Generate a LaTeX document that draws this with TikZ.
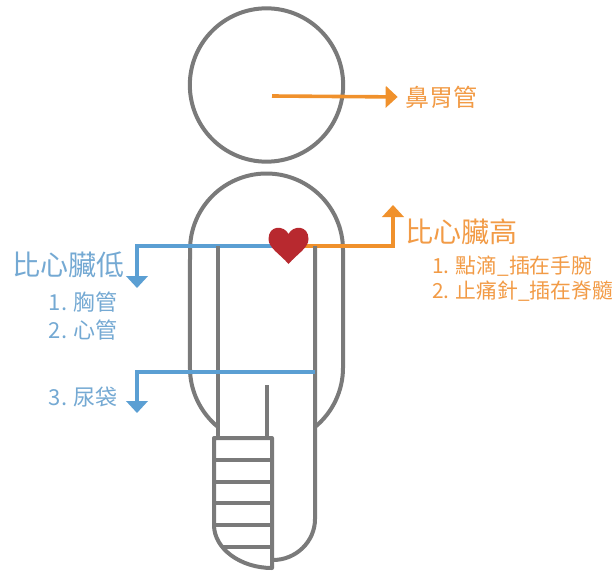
\documentclass[tikz,border=0pt]{standalone}
\usepackage{fontspec}
\setmainfont{Noto Sans CJK TC}
\usetikzlibrary{arrows.meta}
\definecolor{bodygray}{HTML}{7A7A7A}
\definecolor{lowblue}{HTML}{5B9FD3}
\definecolor{lowtext}{HTML}{74A9D3}
\definecolor{highorange}{HTML}{F0912C}
\definecolor{hightext}{HTML}{F29B46}
\definecolor{heartred}{HTML}{B8292F}
\begin{document}
\begin{tikzpicture}[x=0.75pt,y=-0.75pt,
  outline/.style={draw=bodygray, line width=3pt, line join=round},
  tip/.style={-{Triangle[width=16pt,length=9pt]}},
  lowline/.style={draw=lowblue, line width=2.7pt, tip},
  highline/.style={draw=highorange, line width=2.7pt, tip},
  bigtext/.style={inner sep=0pt, font=\fontsize{21pt}{24pt}\selectfont},
  midtext/.style={inner sep=0pt, font=\fontsize{18pt}{21pt}\selectfont},
  smalltext/.style={inner sep=0pt, font=\fontsize{16.5pt}{19pt}\selectfont},
  righttext/.style={inner sep=0pt, font=\fontsize{15.6pt}{18pt}\selectfont}]
\useasboundingbox[fill=white] (0,0) rectangle (616,574);

% head
\node[circle, draw=bodygray, line width=3pt, minimum size=115pt, inner sep=0pt] (head) at (266.5,85) {};

% torso outline: capsule open between the legs
\draw[outline] (218,427) arc[start angle=129.3, end angle=180, radius=76.5]
  -- (190,250) arc[start angle=180, end angle=360, radius=76.5]
  -- (343,367.8) arc[start angle=0, end angle=50.7, radius=76.5];

% labels
\node[midtext, text=hightext, anchor=west] (ngt) at (405,97) {鼻胃管};
\node[bigtext, text=hightext, anchor=west] (hi) at (405,232) {比心臟高};
\node[righttext, text=hightext, anchor=west] (hi1) at (432,266) {1. 點滴\_插在手腕};
\node[righttext, text=hightext, anchor=west] (hi2) at (432,291) {2. 止痛針\_插在脊髓};
\node[bigtext, text=lowtext, anchor=west] (lo) at (12,265) {比心臟低};
\node[smalltext, text=lowtext, anchor=east] (lo1) at (118,302) {1. 胸管};
\node[smalltext, text=lowtext, anchor=east] (lo2) at (118,330) {2. 心管};
\node[smalltext, text=lowtext, anchor=east] (lo3) at (118,397) {3. 尿袋};

% connector anchors
\coordinate (nose) at (272,96);
\coordinate (hc) at (288.5,246);
\coordinate (uptip) at (393,205);
\coordinate (downtip1) at (137,288);
\coordinate (bladder) at (315,372);
\coordinate (downtip2) at (137,413);

% connectors
\draw[highline, shorten >=5.5pt] (nose) -- (ngt.west);
\draw[highline] (hc) -| (uptip);
\draw[lowline] (hc) -| (downtip1);

% inner body lines and legs
\draw[outline] (218,246) -- (218,438);
\draw[outline] (315,246) -- (315,519) .. controls (315,541.6) and (296,560) .. (273,560);
\draw[outline] (267,385) -- (267,438);
\draw[lowline] (bladder) -| (downtip2);

% bandaged leg
\draw[outline] (272,438) -- (214,438) -- (214,525)
  .. controls (214,548.7) and (240.5,568) .. (272,568) -- cycle;
\foreach \yy in {460,482,503,525}
  \draw[outline] (214,\yy) -- (272,\yy);
\draw[outline] (223,547) -- (272,547);

% heart
\fill[heartred] (288.5,234) .. controls (284,225) and (268.5,225) .. (268.5,239)
  .. controls (268.5,248) and (280,254) .. (288.5,264)
  .. controls (297,254) and (308.5,248) .. (308.5,239)
  .. controls (308.5,225) and (293,225) .. (288.5,234) -- cycle;
\end{tikzpicture}
\end{document}
